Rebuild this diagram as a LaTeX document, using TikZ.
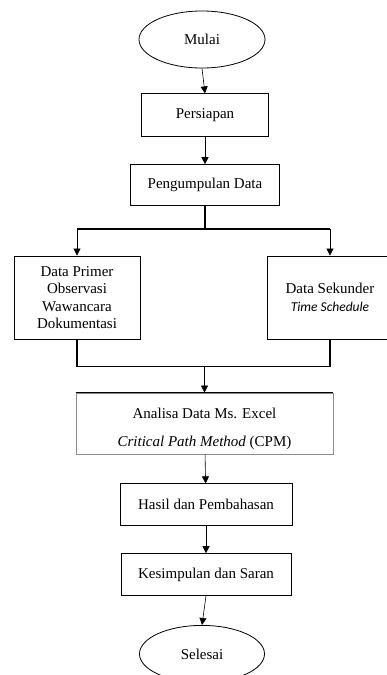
\documentclass[tikz,border=0pt]{standalone}
\usepackage{fontspec}
\setmainfont{Liberation Serif}
\newfontfamily\calibrifont{Carlito}
\usetikzlibrary{arrows.meta,positioning,shapes.geometric}

\begin{document}
\begin{tikzpicture}[>={Triangle[length=7pt,width=7pt]}, font=\fontsize{15}{17.5}\selectfont,
  box/.style={draw, line width=0.8pt, align=center, inner sep=0pt},
  terminal/.style={draw, ellipse, line width=0.8pt, inner sep=0pt, minimum width=126pt, minimum height=57pt},
  flow/.style={->, line width=0.6pt},
  bus/.style={line width=1.3pt}]
  \useasboundingbox (0,0) rectangle (387pt,-675pt);

  % main chain (top)
  \node[terminal] (mulai) at (202pt,-39.5pt) {Mulai};
  \node[box, minimum width=127pt, minimum height=43pt, below=25pt of mulai, xshift=3pt] (persiapan) {Persiapan};
  \node[box, minimum width=149pt, minimum height=41pt, below=27pt of persiapan] (kumpul) {Pengumpulan Data};

  % data sources
  \node[box, minimum width=126pt, minimum height=83pt] (primer) at (77pt,-297.5pt) {Data Primer\\Observasi\\Wawancara\\Dokumentasi};
  \node[box, minimum width=126pt, minimum height=83pt] (sekunder) at (330pt,-297.5pt) {Data Sekunder\\{\calibrifont\itshape\fontsize{13.5}{15}\selectfont Time Schedule}};

  % main chain (bottom)
  \node[box, draw=black!45, minimum width=257pt, minimum height=61pt] (analisa) at (204.5pt,-423.5pt) {\rule{0pt}{21pt}Analisa Data Ms. Excel\\[10pt]\textit{Critical Path Method} (CPM)};
  \draw[line width=1pt] (analisa.north west) -- (analisa.north east);
  \node[box, minimum width=172pt, minimum height=42pt, below=29pt of analisa, xshift=1.5pt] (hasil) {Hasil dan Pembahasan};
  \node[box, minimum width=170pt, minimum height=42pt, below=27pt of hasil] (simpulan) {Kesimpulan dan Saran};
  \node[terminal, minimum width=125pt, below=29pt of simpulan, xshift=-4pt] (selesai) {Selesai};

  \draw[flow] (mulai.south) -- (persiapan.north);
  \draw[flow] (persiapan) -- (kumpul);

  % split into the two sources
  \draw[bus] (kumpul.south) -- ++(0,-23pt) coordinate (split);
  \draw[bus] (split -| primer) -- (split -| sekunder);
  \draw[flow] (split -| primer) -- (primer);
  \draw[flow] (split -| sekunder) -- (sekunder);

  % join again
  \draw[bus] (primer.south) -- ++(0,-27pt) coordinate (merge) -- (merge -| sekunder) -- (sekunder.south);
  \draw[flow] (merge -| analisa) -- (analisa);

  \draw[flow] (analisa) -- (hasil);
  \draw[flow] (hasil) -- (simpulan);
  \draw[flow] (simpulan.south) -- (selesai.north);
\end{tikzpicture}
\end{document}
